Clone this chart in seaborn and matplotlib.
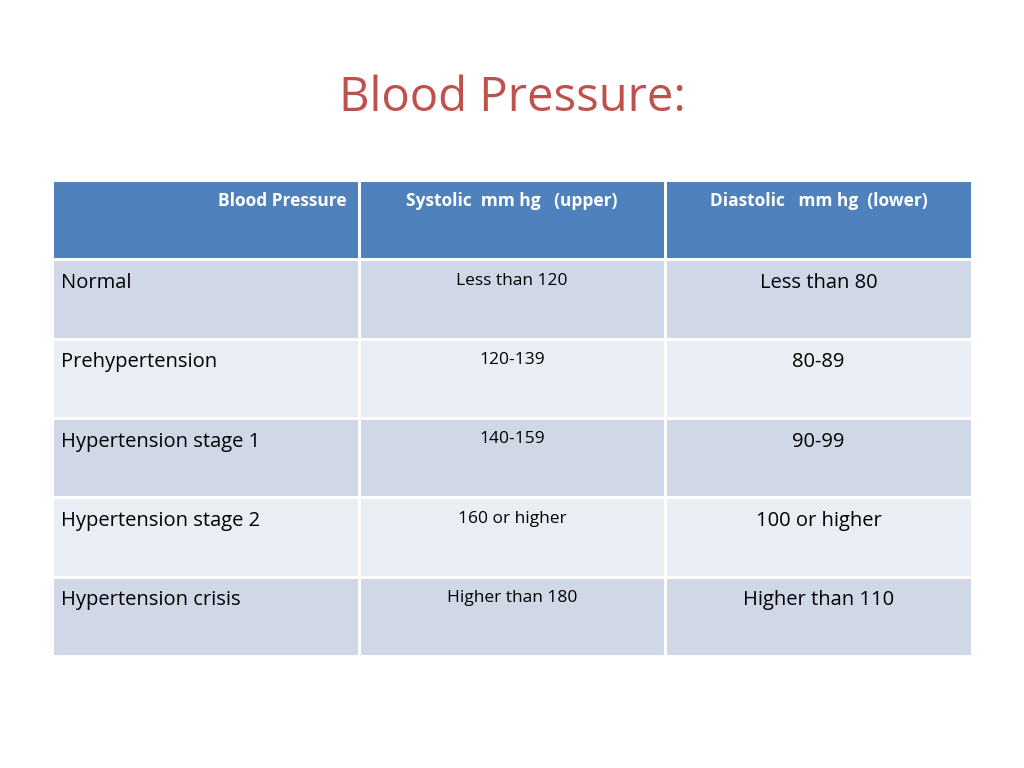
import numpy as np
import pandas as pd
import matplotlib.pyplot as plt
from matplotlib.colors import ListedColormap
import seaborn as sns

headers = ["Blood Pressure", "Systolic  mm hg   (upper)", "Diastolic   mm hg  (lower)"]
categories = ["Normal", "Prehypertension", "Hypertension stage 1",
              "Hypertension stage 2", "Hypertension crisis"]
systolic = ["Less than 120", "120-139", "140-159", "160 or higher", "Higher than 180"]
diastolic = ["Less than 80", "80-89", "90-99", "100 or higher", "Higher than 110"]

# cell shading: 0 = header, 1 = dark band, 2 = light band
shade = [[0, 0, 0]] + [[1 + i % 2] * 3 for i in range(len(categories))]
grid = pd.DataFrame(shade)

fig = plt.figure(figsize=(10.24, 7.68), dpi=100)
ax = fig.add_axes([52 / 1024, 1 - 656 / 768, 920 / 1024, 476 / 768])
cmap = ListedColormap(["#4F81BD", "#D0D8E8", "#E9EDF4"])
sns.heatmap(grid, cmap=cmap, vmin=-0.5, vmax=2.5, cbar=False, ax=ax,
            linewidths=2, linecolor="white", xticklabels=False, yticklabels=False)

font = "Open Sans"
# header
ax.text(0.96, 0.27, headers[0], ha="right", va="center", color="white",
        fontsize=12.5, fontweight="bold", family=font)
ax.text(1.5, 0.27, headers[1], ha="center", va="center", color="white",
        fontsize=12.5, fontweight="bold", family=font)
ax.text(2.5, 0.27, headers[2], ha="center", va="center", color="white",
        fontsize=12.5, fontweight="bold", family=font)

for i, (c, s, d) in enumerate(zip(categories, systolic, diastolic)):
    y = i + 1.3
    ax.text(0.03, y, c, ha="left", va="center", fontsize=14.5, family=font, color="black")
    ax.text(1.5, y - 0.03, s, ha="center", va="center", fontsize=12.5, family=font, color="black")
    ax.text(2.5, y, d, ha="center", va="center", fontsize=14.5, family=font, color="black")

fig.text(0.5, 1 - 98 / 768, "Blood Pressure:", ha="center", va="center",
         fontsize=34, color="#C0504D", family=font)

fig.savefig("out.png", dpi=100)
